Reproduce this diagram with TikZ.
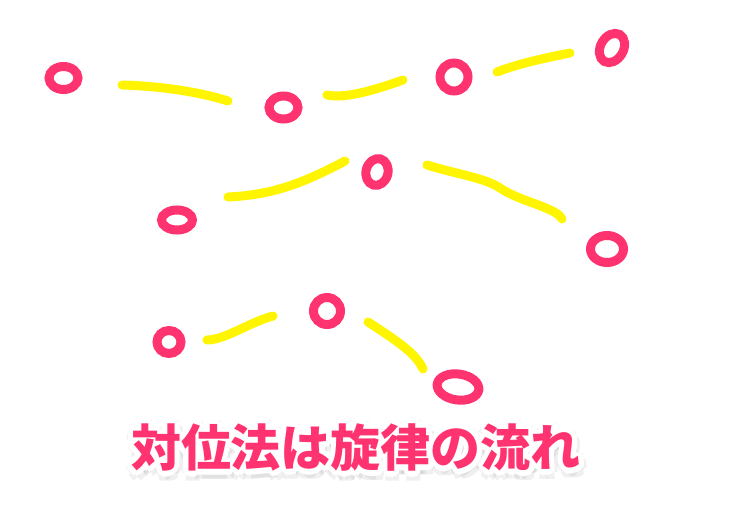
\documentclass[tikz,border=0pt]{standalone}
\usepackage{fontspec}
\newfontfamily\jpfont{Noto Sans CJK JP}
\definecolor{notepink}{RGB}{255,51,112}
\definecolor{lineyellow}{RGB}{255,245,0}
\newcommand\titletext{\jpfont\bfseries\fontsize{50}{50}\selectfont 対位法は旋律の流れ}

\begin{document}
\begin{tikzpicture}[x=1pt,y=-1pt,line width=9pt,
        note/.style={draw=notepink},
        melody/.style={draw=lineyellow,line width=9pt,line cap=round}]
        \useasboundingbox (0,0) rectangle (732,505);
        % top voice
        \draw[note] (63.5,78) ellipse [x radius=14.5,y radius=11.5];
        \draw[note] (283.5,107.5) ellipse [x radius=14.5,y radius=11.5];
        \draw[note] (454,77) ellipse [x radius=14,y radius=14];
        \draw[note] (612,48) ellipse [x radius=11.5,y radius=15.5,rotate=-30];
        \draw[melody] (122,85) .. controls (160,86) and (200,92) .. (228,101);
        \draw[melody] (327,95) .. controls (345,99) and (375,90) .. (403,80);
        \draw[melody] (497,72) .. controls (520,63) and (550,57) .. (570,53);
        % middle voice
        \draw[note] (177,220) ellipse [x radius=15.5,y radius=10];
        \draw[note] (377,172) ellipse [x radius=11,y radius=13.5,rotate=-15];
        \draw[note] (607,249) ellipse [x radius=16.5,y radius=13.5];
        \draw[melody] (228,197) .. controls (270,195) and (300,185) .. (345,161);
        \draw[melody] (427,165) .. controls (460,175) and (485,178) .. (500,188)
                .. controls (515,198) and (535,203) .. (548,209)
                .. controls (555,212) and (560,215) .. (562,219);
        % bottom voice
        \draw[note] (169,342) ellipse [x radius=12,y radius=11.5];
        \draw[note] (327,311) ellipse [x radius=13.5,y radius=13.5];
        \draw[note] (458,387) ellipse [x radius=21,y radius=13,rotate=-8];
        \draw[melody] (207,340) .. controls (225,340) and (250,322) .. (273,316);
        \draw[melody] (368,322) .. controls (385,333) and (400,343) .. (410,352)
                .. controls (415,357) and (420,362) .. (423,369);
        % title
        \foreach \a in {0,60,...,300}
                \node[text=black,opacity=0.06,shift={(\a:7)}] at (357,451) {\titletext};
        \foreach \a in {0,30,...,330}
                \node[text=white,shift={(\a:5)}] at (356,448) {\titletext};
        \node[text=notepink] (title) at (356,448) {\titletext};
\end{tikzpicture}
\end{document}
